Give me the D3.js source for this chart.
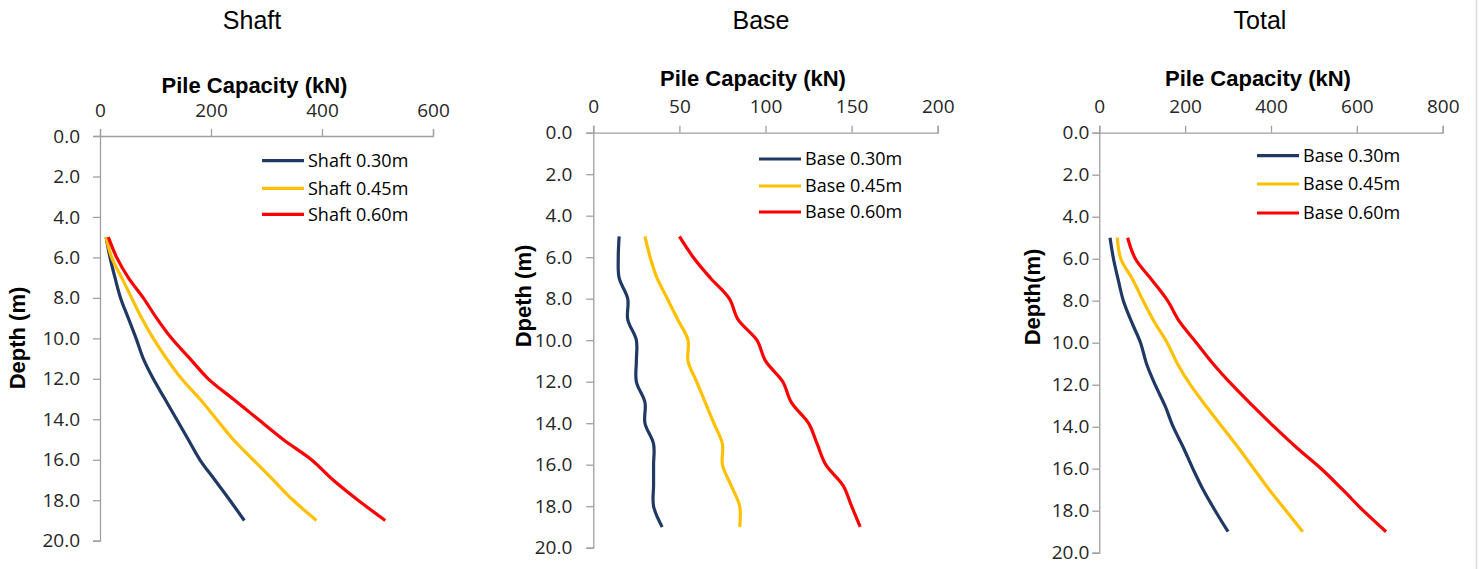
<!DOCTYPE html>
<html>
<head>
<meta charset="utf-8">
<script src="https://cdn.jsdelivr.net/npm/d3@7"></script>
<style>
  html, body { margin: 0; padding: 0; background: #fff; }
  svg { display: block; }
</style>
</head>
<body>
<svg id="chart" width="1479" height="569"></svg>
<script>
// Depth below ground (m) at which capacities were computed
const depths = [5, 6, 7, 8, 9, 10, 11, 12, 13, 14, 15, 16, 17, 18, 19];

// Shaft resistance (kN) per pile diameter
const shaft030 = [11, 18, 27, 37, 51, 65, 78, 96, 117, 138, 159, 180, 207, 234, 260];
const shaft045 = [11, 21, 39, 57, 75, 96, 120, 147, 180, 210, 240, 276, 312, 348, 390];
const shaft060 = [15, 30, 51, 78, 102, 129, 162, 195, 240, 285, 330, 381, 420, 465, 514];

// Base resistance (kN) per pile diameter
const base030 = [15, 14.5, 15, 20, 20, 25, 25, 25, 30, 30, 35, 35, 35, 35, 40];
const base045 = [30, 33, 37, 43, 49, 55, 55, 60, 65, 70, 75, 75, 80, 85, 85];
const base060 = [50, 58, 68, 79, 84, 95, 100, 110, 115, 125, 130, 135, 145, 150, 155];

// Total capacity (kN) per pile diameter
const total030 = [25, 33, 44, 56, 75, 96, 110, 130, 153, 172, 196, 218, 242, 270, 300];
const total045 = [42, 50, 78, 102, 128, 158, 182, 212, 248, 286, 324, 360, 396, 435, 474];
const total060 = [66, 84, 122, 159, 187, 226, 265, 309, 357, 407, 460, 517, 567, 615, 668];

// Axis ticks
const depthTicks = [0, 2, 4, 6, 8, 10, 12, 14, 16, 18, 20];
const shaftTicks = [0, 200, 400, 600];
const baseTicks = [0, 50, 100, 150, 200];
const totalTicks = [0, 200, 400, 600, 800];

const panelTitles = ["Shaft", "Base", "Total"];
const xAxisTitle = "Pile Capacity (kN)";
const yAxisTitles = ["Depth (m)", "Dpeth (m)", "Depth(m)"];
const shaftLegend = ["Shaft 0.30m", "Shaft 0.45m", "Shaft 0.60m"];
const baseLegend = ["Base 0.30m", "Base 0.45m", "Base 0.60m"];
const totalLegend = ["Base 0.30m", "Base 0.45m", "Base 0.60m"];

const colors = ["#1f3864", "#ffc000", "#ff0000"];

const svg = d3.select("#chart");
const tickFont = "'Open Sans', sans-serif";
const titleFont = "'Liberation Sans', Arial, sans-serif";

const panels = [
  {
    title: panelTitles[0], titleX: 252,
    left: 100, right: 433, top: 136, bottom: 540.7,
    xMax: 600, xTicks: shaftTicks,
    series: [shaft030, shaft045, shaft060], legend: shaftLegend,
    xTitleX: 254.5, xTitleY: 93, xTickY: 117,
    yTitle: yAxisTitles[0], yTitleX: 25, yTitleY: 338,
    yLabelGap: 13, legendX: 262, legendY: [160.7, 188.3, 214.3]
  },
  {
    title: panelTitles[1], titleX: 761,
    left: 593.3, right: 937.7, top: 132.7, bottom: 547.7,
    xMax: 200, xTicks: baseTicks,
    series: [base030, base045, base060], legend: baseLegend,
    xTitleX: 753, xTitleY: 86, xTickY: 113,
    yTitle: yAxisTitles[1], yTitleX: 531, yTitleY: 296,
    yLabelGap: 14, legendX: 759, legendY: [159, 186, 212]
  },
  {
    title: panelTitles[2], titleX: 1260,
    left: 1099.3, right: 1442.7, top: 132.7, bottom: 552.7,
    xMax: 800, xTicks: totalTicks,
    series: [total030, total045, total060], legend: totalLegend,
    xTitleX: 1258, xTitleY: 86, xTickY: 113,
    yTitle: yAxisTitles[2], yTitleX: 1040, yTitleY: 297,
    yLabelGap: 3, legendX: 1257, legendY: [155.7, 184, 213]
  }
];

// thin frame line on the right edge of the figure
svg.append("line")
  .attr("x1", 1476.5).attr("x2", 1476.5)
  .attr("y1", 0).attr("y2", 569)
  .attr("stroke", "#d9d9d9").attr("stroke-width", 1.5);

panels.forEach(p => {
  const x = d3.scaleLinear().domain([0, p.xMax]).range([p.left, p.right]);
  const y = d3.scaleLinear().domain([0, 20]).range([p.top, p.bottom]);
  const g = svg.append("g");

  // Panel title
  g.append("text")
    .attr("x", p.titleX).attr("y", 29)
    .attr("text-anchor", "middle")
    .style("font-family", titleFont).style("font-size", "25px")
    .attr("fill", "#000")
    .text(p.title);

  // Top (capacity) axis
  const xAxis = g.append("g")
    .attr("transform", `translate(0,${p.top})`)
    .call(d3.axisTop(x).tickValues(p.xTicks).tickSize(7).tickPadding(0).tickFormat(d3.format("d")));
  xAxis.select(".domain").attr("stroke", "#a0a0a0").attr("stroke-width", 1.3);
  xAxis.selectAll(".tick line").attr("stroke", "#a0a0a0").attr("stroke-width", 1.3);
  xAxis.selectAll(".tick text")
    .attr("y", p.xTickY - p.top).attr("dy", null)
    .style("font-family", tickFont).style("font-size", "19px")
    .attr("fill", "#262626");

  // Left (depth) axis
  const yAxis = g.append("g")
    .attr("transform", `translate(${p.left},0)`)
    .call(d3.axisLeft(y).tickValues(depthTicks).tickSize(7).tickPadding(p.yLabelGap).tickFormat(d3.format(".1f")));
  yAxis.select(".domain").attr("stroke", "#a0a0a0").attr("stroke-width", 1.3);
  yAxis.selectAll(".tick line").attr("stroke", "#a0a0a0").attr("stroke-width", 1.3);
  yAxis.selectAll(".tick text")
    .style("font-family", tickFont).style("font-size", "19px")
    .attr("fill", "#262626");

  // Axis titles
  g.append("text")
    .attr("x", p.xTitleX).attr("y", p.xTitleY)
    .attr("text-anchor", "middle")
    .style("font-family", titleFont).style("font-size", "22px").style("font-weight", "bold")
    .attr("fill", "#000")
    .text(xAxisTitle);

  g.append("text")
    .attr("transform", `translate(${p.yTitleX},${p.yTitleY}) rotate(-90)`)
    .attr("text-anchor", "middle")
    .style("font-family", titleFont).style("font-size", "22px").style("font-weight", "bold")
    .attr("fill", "#000")
    .text(p.yTitle);

  // Capacity curves, plotted with depth downward
  const line = d3.line()
    .x(d => x(d[0]))
    .y(d => y(d[1]))
    .curve(d3.curveCatmullRom.alpha(0.5));

  p.series.forEach((vals, i) => {
    g.append("path")
      .datum(vals.map((v, k) => [v, depths[k]]))
      .attr("d", line)
      .attr("fill", "none")
      .attr("stroke", colors[i])
      .attr("stroke-width", 3.2);
  });

  // Legend
  p.legend.forEach((label, i) => {
    const ly = p.legendY[i];
    g.append("line")
      .attr("x1", p.legendX).attr("x2", p.legendX + 42)
      .attr("y1", ly).attr("y2", ly)
      .attr("stroke", colors[i]).attr("stroke-width", 3.2);
    g.append("text")
      .attr("x", p.legendX + 46).attr("y", ly)
      .attr("dy", "0.35em")
      .style("font-family", tickFont).style("font-size", "18px")
      .attr("fill", "#000")
      .text(label);
  });
});
</script>
</body>
</html>
